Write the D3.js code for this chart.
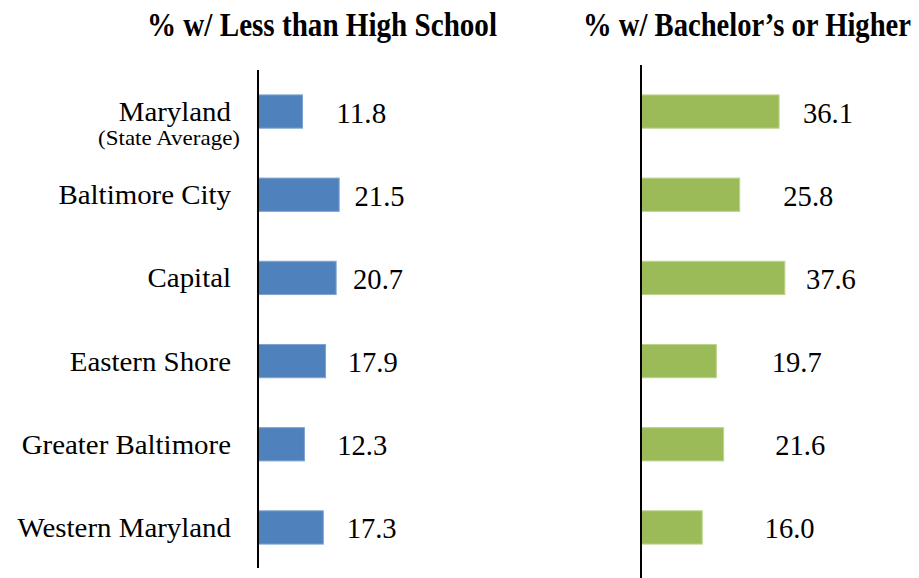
<!DOCTYPE html>
<html lang="en">
<head>
    <meta charset="UTF-8">
    <title>Maryland education</title>
    <style>
        body { margin: 0; background: #fff; }
        svg { display: block; }
        text { font-family: "Liberation Serif", "Times New Roman", serif; fill: #000; }
        .title { font-weight: bold; font-size: 33px; }
        .cat { font-size: 27px; text-anchor: end; }
        .sub { font-size: 20px; text-anchor: end; }
        .val { font-size: 29px; text-anchor: middle; }
        .axisLine { stroke: #000; stroke-width: 2; }
    </style>
</head>
<body>
    <svg></svg>
    <script src="https://cdn.jsdelivr.net/npm/d3@7"></script>
    <script>
        var regions = ['Maryland', 'Baltimore City', 'Capital', 'Eastern Shore', 'Greater Baltimore', 'Western Maryland']
        var lessThanHS = [11.8, 21.5, 20.7, 17.9, 12.3, 17.3]
        var bachelors = [36.1, 25.8, 37.6, 19.7, 21.6, 16.0]
        var titles = ['% w/ Less than High School', '% w/ Bachelor\u2019s or Higher']

        var W = 919, H = 578
        var svg = d3.select('svg')
        .attr('width', W)
        .attr('height', H)

        // rows shared by both panels
        var y = d3.scaleBand()
        .domain(regions)
        .range([45, 594])
        .paddingInner(0.6)
        .paddingOuter(0.6)

        // one panel per series
        var panels = [
            {values: lessThanHS, color: '#4F81BD', edge: '#7EA3D2', x0: 258, px: 151, labelGap: 81,
             title: titles[0], tx: 147, tw: 350, axisTop: 70, axisBottom: 568},
            {values: bachelors, color: '#9BBB59', edge: '#BCD48C', x0: 641, px: 153, labelGap: 118,
             title: titles[1], tx: 583, tw: 328, axisTop: 65, axisBottom: 578}
        ]

        panels.forEach(function (p) {
            var x = d3.scaleLinear().domain([0, 40]).range([0, p.px])
            var g = svg.append('g').attr('transform', 'translate(' + p.x0 + ',0)')

            g.selectAll('rect')
            .data(p.values)
            .enter()
            .append('rect')
            .attr('x', 0)
            .attr('y', function (d, i) { return y(regions[i]) })
            .attr('width', function (d) { return x(d) })
            .attr('height', y.bandwidth())
            .attr('fill', p.color)
            .attr('stroke', p.edge)
            .attr('stroke-width', 1)

            // axis line
            g.append('line')
            .attr('class', 'axisLine')
            .attr('x1', 0).attr('x2', 0)
            .attr('y1', p.axisTop).attr('y2', p.axisBottom)

            // value labels, stretched wide like the original
            g.selectAll('.val')
            .data(p.values)
            .enter()
            .append('text')
            .attr('class', 'val')
            .attr('x', function (d) { return x(d) / 2 + p.labelGap })
            .attr('y', function (d, i) { return y(regions[i]) + y.bandwidth() / 2 + 11 })
            .attr('textLength', 50)
            .attr('lengthAdjust', 'spacingAndGlyphs')
            .text(function (d) { return d.toFixed(1) })

            // title, condensed
            svg.append('text')
            .attr('class', 'title')
            .attr('transform', 'translate(' + p.tx + ',36) scale(0.88,1)')
            .attr('textLength', p.tw / 0.88)
            .attr('lengthAdjust', 'spacingAndGlyphs')
            .text(p.title)
        })

        // category labels
        svg.selectAll('.cat')
        .data(regions)
        .enter()
        .append('text')
        .attr('class', 'cat')
        .attr('transform', function (d) {
            return 'translate(231,' + (y(d) + y.bandwidth() / 2 + 9.5) + ') scale(1.07,1)'
        })
        .text(function (d) { return d })

        svg.append('text')
        .attr('class', 'sub')
        .attr('transform', 'translate(240,145) scale(1.15,1)')
        .text('(State Average)')
    </script>
</body>
</html>
